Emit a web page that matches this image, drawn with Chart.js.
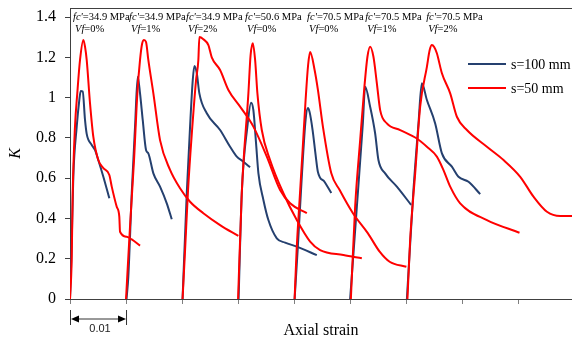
<!DOCTYPE html>
<html>
<head>
<meta charset="utf-8">
<title>K - axial strain</title>
<script src="https://cdn.jsdelivr.net/npm/chart.js@4.4.1/dist/chart.umd.min.js"></script>
<style>
  html, body { margin: 0; padding: 0; background: #fff; }
  #wrap { width: 572px; height: 347px; }
</style>
</head>
<body>
<div id="wrap"><canvas id="chart" width="572" height="347"></canvas></div>
<script>
// ---- values ----
// strain is measured from each curve's own origin; each specimen is shifted by 0.01
const groupShift = 0.01;
const fcLabels = ['34.9', '34.9', '34.9', '50.6', '70.5', '70.5', '70.5'];
const vfLabels = ['0%', '1%', '2%', '0%', '0%', '1%', '2%'];
const seriesNames = ['s=100 mm', 's=50 mm'];

// s = 100 mm
const s100Strain = [
  [0, 0.00023, 0.00059, 0.0012, 0.00166, 0.00191, 0.00227, 0.00268, 0.00298, 0.00388, 0.00446, 0.00505, 0.00595, 0.00702],
  [0.00009, 0.00041, 0.00102, 0.00161, 0.00209, 0.0025, 0.00298, 0.00357, 0.00398, 0.00488, 0.00607, 0.00727, 0.00816],
  [0.00009, 0.00084, 0.00143, 0.00191, 0.0022, 0.00263, 0.00309, 0.00441, 0.00679, 0.00857, 0.00977, 0.01095, 0.01214],
  [0.00009, 0.00066, 0.00166, 0.00232, 0.00273, 0.00321, 0.00363, 0.00452, 0.00541, 0.00691, 0.00839, 0.01048, 0.01405],
  [0.00009, 0.00063, 0.00134, 0.00205, 0.00246, 0.00277, 0.0033, 0.00384, 0.00425, 0.00545, 0.00664],
  [0, 0.0012, 0.00227, 0.00268, 0.00357, 0.00446, 0.00505, 0.00625, 0.00834, 0.01089],
  [0.00013, 0.0013, 0.0022, 0.0028, 0.0037, 0.00518, 0.00638, 0.00816, 0.00934, 0.01113, 0.01321]
];
const s100K = [
  [0, 0.194, 0.607, 0.856, 0.988, 1.033, 1.030, 0.889, 0.820, 0.765, 0.740, 0.690, 0.607, 0.500],
  [0, 0.111, 0.526, 0.856, 1.104, 1.021, 0.889, 0.740, 0.723, 0.624, 0.558, 0.475, 0.396],
  [0, 0.525, 0.856, 1.087, 1.157, 1.121, 1.021, 0.922, 0.839, 0.756, 0.707, 0.682, 0.654],
  [0, 0.526, 0.856, 0.975, 0.938, 0.773, 0.624, 0.492, 0.392, 0.301, 0.280, 0.260, 0.218],
  [0, 0.243, 0.591, 0.889, 0.948, 0.928, 0.839, 0.715, 0.631, 0.581, 0.526],
  [0, 0.458, 0.872, 1.054, 0.955, 0.823, 0.690, 0.624, 0.558, 0.467],
  [0, 0.541, 0.872, 1.071, 0.988, 0.872, 0.723, 0.657, 0.607, 0.582, 0.521]
];

// s = 50 mm
const s50Strain = [
  [0, 0.0003, 0.00048, 0.00089, 0.0013, 0.00179, 0.00238, 0.00268, 0.00298, 0.00357, 0.00416, 0.00505, 0.00595, 0.00702, 0.00745, 0.00834, 0.0088, 0.00893, 0.01013, 0.01102, 0.0125],
  [0, 0.00071, 0.00143, 0.00202, 0.0025, 0.00286, 0.00321, 0.00357, 0.00398, 0.00488, 0.00607, 0.00786, 0.00964, 0.01143, 0.0138, 0.01679, 0.02005],
  [0.00009, 0.00054, 0.00107, 0.00179, 0.0025, 0.00291, 0.00309, 0.0038, 0.0047, 0.0053, 0.00679, 0.00827, 0.01036, 0.01273, 0.01513, 0.0175, 0.01929, 0.02227],
  [0, 0.00066, 0.00184, 0.00223, 0.00263, 0.00304, 0.00345, 0.00423, 0.00571, 0.00809, 0.01048, 0.01286, 0.01464, 0.0188, 0.02209],
  [0.00009, 0.00045, 0.00098, 0.00152, 0.00205, 0.0025, 0.00286, 0.00366, 0.00425, 0.00514, 0.00664, 0.00813, 0.0105, 0.01318, 0.01527, 0.01705, 0.02004],
  [0.00013, 0.00089, 0.00179, 0.0025, 0.00309, 0.00357, 0.00416, 0.00477, 0.00536, 0.00655, 0.00893, 0.01191, 0.0137, 0.01548, 0.01666, 0.01786, 0.01964, 0.02441, 0.03023],
  [0.00023, 0.00071, 0.00161, 0.0025, 0.0037, 0.0042, 0.00459, 0.005, 0.00548, 0.00638, 0.00786, 0.00905, 0.01084, 0.01441, 0.01738, 0.02036, 0.02273, 0.02513, 0.0275, 0.02964]
];
const s50K = [
  [0, 0.194, 0.525, 0.856, 1.021, 1.187, 1.286, 1.253, 1.187, 0.973, 0.806, 0.690, 0.650, 0.616, 0.558, 0.458, 0.409, 0.334, 0.309, 0.296, 0.265],
  [0, 0.359, 0.690, 1.021, 1.187, 1.266, 1.286, 1.276, 1.187, 1.021, 0.789, 0.641, 0.550, 0.483, 0.426, 0.367, 0.313],
  [0, 0.243, 0.541, 0.839, 1.087, 1.187, 1.301, 1.290, 1.261, 1.200, 1.137, 1.038, 0.955, 0.856, 0.707, 0.541, 0.475, 0.426],
  [0, 0.526, 1.021, 1.210, 1.270, 1.187, 1.021, 0.839, 0.690, 0.525, 0.392, 0.285, 0.243, 0.218, 0.202],
  [0, 0.243, 0.492, 0.740, 0.988, 1.162, 1.226, 1.137, 1.038, 0.856, 0.624, 0.541, 0.426, 0.326, 0.235, 0.185, 0.160],
  [0, 0.458, 0.789, 1.038, 1.203, 1.253, 1.203, 1.071, 0.938, 0.872, 0.839, 0.797, 0.756, 0.707, 0.640, 0.558, 0.475, 0.392, 0.329],
  [0, 0.293, 0.624, 0.955, 1.153, 1.236, 1.261, 1.251, 1.220, 1.121, 1.021, 0.905, 0.839, 0.756, 0.690, 0.607, 0.508, 0.433, 0.412, 0.412]
];

const xTicks = [0, 0.01, 0.02, 0.03, 0.04, 0.05, 0.06, 0.07, 0.08];
const yTicks = [0, 0.2, 0.4, 0.6, 0.8, 1, 1.2, 1.4];

// ---- styling ----
const BLUE = '#25406F';
const RED = '#FF0000';
const SERIF = "'Liberation Serif', 'Times New Roman', serif";
const AXIS = '#404040';

function toPoints(strain, k, i) {
  return strain.map((s, j) => ({ x: s + i * groupShift, y: k[j] }));
}

// red first so it sits on top of the blue curves
const datasets = [];
s50Strain.forEach((st, i) => datasets.push({
  label: seriesNames[1], data: toPoints(st, s50K[i], i),
  borderColor: RED, backgroundColor: RED
}));
s100Strain.forEach((st, i) => datasets.push({
  label: seriesNames[0], data: toPoints(st, s100K[i], i),
  borderColor: BLUE, backgroundColor: BLUE
}));

// top frame line
const frameTop = {
  id: 'frameTop',
  afterDraw(chart) {
    const { ctx, chartArea: a } = chart;
    ctx.save();
    ctx.strokeStyle = AXIS;
    ctx.lineWidth = 1;
    ctx.beginPath();
    ctx.moveTo(a.left, a.top + 0.5);
    ctx.lineTo(a.right, a.top + 0.5);
    ctx.stroke();
    ctx.restore();
  }
};

// fc' / Vf labels above each specimen
const labelAnchors = [0.00054, 0.01054, 0.02071, 0.03125, 0.04232, 0.05268, 0.06357];
const specimenLabels = {
  id: 'specimenLabels',
  afterDatasetsDraw(chart) {
    const { ctx, chartArea: a } = chart;
    const x = chart.scales.x;
    const size = 10.5;
    ctx.save();
    ctx.fillStyle = '#000';
    ctx.textBaseline = 'alphabetic';
    ctx.textAlign = 'left';
    fcLabels.forEach((fc, i) => {
      let px = x.getPixelForValue(labelAnchors[i]);
      ctx.font = `italic ${size}px ${SERIF}`;
      ctx.fillText("fc'", px, a.top + 12);
      let w = ctx.measureText("fc'").width;
      ctx.font = `${size}px ${SERIF}`;
      ctx.fillText('=' + fc + ' MPa', px + w, a.top + 12);

      px += 2;
      ctx.font = `italic ${size}px ${SERIF}`;
      ctx.fillText('Vf', px, a.top + 23.5);
      w = ctx.measureText('Vf').width;
      ctx.font = `${size}px ${SERIF}`;
      ctx.fillText('=' + vfLabels[i], px + w, a.top + 23.5);
    });
    ctx.restore();
  }
};

// legend inside the plot, top right
const innerLegend = {
  id: 'innerLegend',
  afterDatasetsDraw(chart) {
    const { ctx, chartArea: a } = chart;
    const entries = [[seriesNames[0], BLUE], [seriesNames[1], RED]];
    ctx.save();
    ctx.font = `14px ${SERIF}`;
    ctx.textBaseline = 'middle';
    ctx.textAlign = 'left';
    entries.forEach(([name, col], i) => {
      const y = a.top + 56 + i * 24;
      ctx.strokeStyle = col;
      ctx.lineWidth = 2;
      ctx.beginPath();
      ctx.moveTo(a.right - 104, y);
      ctx.lineTo(a.right - 66, y);
      ctx.stroke();
      ctx.fillStyle = '#000';
      ctx.fillText(name, a.right - 61, y + 1);
    });
    ctx.restore();
  }
};

// 0.01 dimension arrow under the first interval
const dimStrain = 0.01;
const dimArrow = {
  id: 'dimArrow',
  afterDraw(chart) {
    const { ctx, chartArea: a } = chart;
    const x0 = chart.scales.x.getPixelForValue(0);
    const x1 = chart.scales.x.getPixelForValue(dimStrain);
    const y = a.bottom + 20;
    ctx.save();
    ctx.strokeStyle = '#333';
    ctx.fillStyle = '#000';
    ctx.lineWidth = 1;
    ctx.beginPath();
    ctx.moveTo(x0 + 0.5, a.bottom + 11);
    ctx.lineTo(x0 + 0.5, a.bottom + 26);
    ctx.moveTo(x1 + 0.5, a.bottom + 11);
    ctx.lineTo(x1 + 0.5, a.bottom + 26);
    ctx.moveTo(x0 + 8, y);
    ctx.lineTo(x1 - 8, y);
    ctx.stroke();
    ctx.beginPath();
    ctx.moveTo(x0 + 1, y);
    ctx.lineTo(x0 + 9, y - 3.5);
    ctx.lineTo(x0 + 9, y + 3.5);
    ctx.closePath();
    ctx.moveTo(x1, y);
    ctx.lineTo(x1 - 8, y - 3.5);
    ctx.lineTo(x1 - 8, y + 3.5);
    ctx.closePath();
    ctx.fill();
    ctx.font = "11px 'Liberation Sans', Arial, sans-serif";
    ctx.textAlign = 'center';
    ctx.textBaseline = 'middle';
    ctx.fillStyle = '#222';
    ctx.fillText(String(dimStrain), (x0 + x1) / 2 + 2, a.bottom + 30);
    ctx.restore();
  }
};

new Chart(document.getElementById('chart'), {
  type: 'scatter',
  data: { datasets },
  options: {
    responsive: false,
    animation: false,
    showLine: true,
    layout: { padding: { top: 8, right: 0, bottom: 0, left: 0 } },
    elements: {
      point: { radius: 0, hoverRadius: 0 },
      line: { borderWidth: 2, cubicInterpolationMode: 'monotone', fill: false }
    },
    plugins: {
      legend: { display: false },
      tooltip: { enabled: false }
    },
    scales: {
      x: {
        type: 'linear',
        min: 0,
        max: 0.0896,
        afterBuildTicks: s => { s.ticks = xTicks.map(v => ({ value: v })); },
        afterFit: s => { s.height = 48; s.paddingLeft = 0; s.paddingRight = 0; },
        grid: { drawOnChartArea: false, tickLength: 5, color: '#7f7f7f' },
        border: { color: AXIS, width: 1 },
        ticks: { display: false },
        title: {
          display: true, text: 'Axial strain', color: '#000',
          font: { family: SERIF, size: 16 },
          padding: { top: 0, bottom: 7 }
        }
      },
      y: {
        min: 0,
        max: 1.445,
        afterBuildTicks: s => { s.ticks = yTicks.map(v => ({ value: v })); },
        afterFit: s => { s.width = 70; s.paddingTop = 0; s.paddingBottom = 0; },
        grid: { drawOnChartArea: false, tickLength: 5, color: AXIS },
        border: { color: AXIS, width: 1 },
        ticks: {
          color: '#000', padding: 9,
          font: { family: SERIF, size: 16 },
          callback: v => String(+Number(v).toFixed(1))
        },
        title: {
          display: true, text: 'K', color: '#000',
          font: { family: SERIF, size: 16, style: 'italic' },
          padding: { top: 6, bottom: 0 }
        }
      }
    }
  },
  plugins: [frameTop, specimenLabels, innerLegend, dimArrow]
});
</script>
</body>
</html>
